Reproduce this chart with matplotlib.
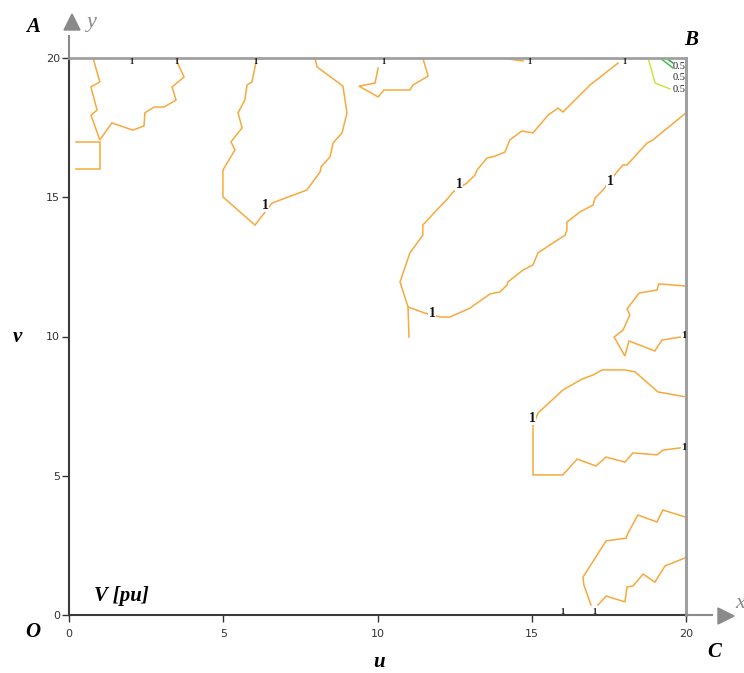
import matplotlib.pyplot as plt
from matplotlib.lines import Line2D
from matplotlib.patches import Polygon

# V [pu] = 1 contour pieces over the u-v grid (0..20)
c1_u = [0.78, 1.00, 0.71, 0.91, 0.71, 1.00, 1.39, 2.07, 2.43, 2.46, 2.76, 3.08, 3.47, 3.34, 3.73, 3.50, 3.50]
c1_v = [20.0, 19.14, 18.96, 18.13, 17.95, 17.06, 17.67, 17.41, 17.56, 18.03, 18.24, 18.24, 18.49, 18.96, 19.32, 19.86, 20.0]
c2_u = [0.23, 1.00, 1.00, 0.23]
c2_v = [16.98, 16.98, 16.01, 16.01]
c3_u = [6.09, 5.93, 5.77, 5.70, 5.48, 5.61, 5.25, 5.38, 4.99, 4.99, 6.03, 6.58, 7.71, 8.14, 8.17,
        8.46, 8.56, 8.85, 9.01, 8.88, 8.04, 7.97]
c3_v = [20.0, 19.14, 19.03, 18.49, 18.03, 17.49, 16.99, 16.70, 15.98, 15.01, 14.00, 14.79, 15.26, 15.91,
        16.09, 16.45, 16.95, 17.31, 18.03, 18.99, 19.68, 20.0]
c4_u = [11.47, 11.64, 11.15, 11.05, 10.21, 10.02, 9.40, 9.92, 10.02]
c4_v = [20.0, 19.35, 19.03, 18.85, 18.85, 18.60, 18.99, 19.10, 19.64]
c5_u = [17.80, 16.89, 16.01, 15.85, 15.53, 15.04, 14.68, 14.29, 14.13, 13.97, 13.74, 13.55, 13.23, 13.16,
        12.90, 12.45, 12.29, 11.86, 11.47, 11.47, 11.05, 10.73, 10.99, 11.54, 12.03, 12.35, 13.00, 13.65,
        13.97, 14.20, 14.23, 14.72, 15.04, 15.20, 15.69, 16.08, 16.14, 16.14, 16.56, 16.99, 17.05, 17.31,
        17.76, 17.96, 18.09, 18.74, 18.93, 20.0]
c5_v = [19.82, 19.03, 18.06, 18.20, 17.95, 17.31, 17.38, 17.06, 16.62, 16.55, 16.45, 16.41, 15.98, 15.80,
        15.51, 15.19, 14.97, 14.47, 14.00, 13.64, 13.00, 11.96, 11.06, 10.84, 10.70, 10.70, 11.02, 11.53,
        11.60, 11.85, 11.96, 12.39, 12.57, 13.00, 13.36, 13.64, 13.82, 14.11, 14.47, 14.72, 14.97, 15.26,
        15.91, 16.16, 16.16, 16.95, 17.06, 18.03]
c6_u = [10.99, 11.02]
c6_v = [11.06, 9.98]
c7_u = [14.04, 14.72]
c7_v = [20.0, 19.89]
c8_u = [20.0, 19.12, 19.06, 18.48, 18.09, 18.18, 17.96, 17.67, 18.02, 18.15, 18.99, 19.22, 19.81]
c8_v = [11.81, 11.89, 11.67, 11.56, 10.99, 10.77, 10.23, 9.98, 9.30, 9.84, 9.48, 9.87, 9.98]
c9_u = [20.0, 19.09, 18.35, 18.02, 17.28, 16.99, 16.63, 16.01, 15.20, 15.04, 15.04, 16.01, 16.47, 17.08,
        17.41, 18.02, 18.28, 19.06, 19.25, 19.81]
c9_v = [7.83, 8.01, 8.73, 8.80, 8.80, 8.62, 8.47, 8.08, 7.25, 6.79, 5.03, 5.03, 5.60, 5.35, 5.67, 5.49,
        5.82, 5.75, 5.92, 6.00]
c10_u = [19.97, 19.25, 19.06, 18.44, 18.12, 18.06, 17.41, 16.66, 16.69, 16.92]
c10_v = [3.52, 3.77, 3.34, 3.59, 2.94, 2.76, 2.66, 1.36, 1.08, 0.36]
c11_u = [17.15, 17.41, 18.02, 18.09, 18.28, 18.61, 18.99, 19.32, 19.97]
c11_v = [0.36, 0.68, 0.47, 1.01, 1.04, 1.47, 1.18, 1.76, 2.05]

# lower levels in the corner
low1_u = [18.77, 19.00, 19.48]
low1_v = [20.0, 19.10, 18.89]
low2_u = [19.16, 19.58]
low2_v = [20.0, 19.64]
low3_u = [19.35, 19.58]
low3_v = [20.0, 19.82]

# inline labels
lab_u = [6.35, 12.64, 11.77, 17.54, 15.01]
lab_v = [14.72, 15.44, 10.81, 15.55, 7.07]
edge_top_u = [2.03, 3.47, 6.06, 10.18, 14.94, 17.99]
edge_bot_u = [16.01, 17.02]
edge_right_v = [10.02, 6.03]
low_lab_v = [19.70, 19.29, 18.88]

orange = '#f7a93c'

fig = plt.figure(figsize=(7.44, 6.73), dpi=100)
ax = fig.add_axes([69 / 744, 1 - 615 / 673, 617 / 744, 557 / 673])

for u, v in [(c1_u, c1_v), (c2_u, c2_v), (c3_u, c3_v), (c4_u, c4_v), (c5_u, c5_v), (c6_u, c6_v),
             (c7_u, c7_v), (c8_u, c8_v), (c9_u, c9_v), (c10_u, c10_v), (c11_u, c11_v)]:
    ax.plot(u, v, color=orange, lw=1.1, solid_joinstyle='miter')
ax.plot(low1_u, low1_v, color='#c8e845', lw=1.1)
ax.plot(low2_u, low2_v, color='#3fc24a', lw=1.1)
ax.plot(low3_u, low3_v, color='#2aa84a', lw=1.1)

lab_font = dict(family='Liberation Serif', fontweight='bold', color='#111')
for u, v in zip(lab_u, lab_v):
    ax.text(u, v, '1', fontsize=10, ha='center', va='center',
            bbox=dict(facecolor='white', edgecolor='none', pad=0.6), **lab_font)
for u in edge_top_u:
    ax.text(u, 20, '1', fontsize=6, ha='center', va='top', **lab_font)
for u in edge_bot_u:
    ax.text(u, 0.12, '1', fontsize=6, ha='center', va='center', **lab_font)
for v in edge_right_v:
    ax.text(19.93, v, '1', fontsize=8, ha='center', va='center', clip_on=True, **lab_font)
for v in low_lab_v:
    ax.text(19.58, v, '0.5', fontsize=7.5, ha='left', va='center', clip_on=True,
            family='Liberation Serif', color='#222')

ax.set_xlim(0, 20)
ax.set_ylim(0, 20)
ax.set_xticks([0, 5, 10, 15, 20])
ax.set_yticks([0, 5, 10, 15, 20])
ax.tick_params(direction='out', length=5, width=1, colors='#333', labelsize=8)
ax.tick_params(axis='x', pad=5)
ax.tick_params(axis='y', pad=1.5)
for lbl in ax.get_xticklabels() + ax.get_yticklabels():
    lbl.set_color('#333')

for side in ['left', 'bottom']:
    ax.spines[side].set_color('#3a3a3a')
    ax.spines[side].set_linewidth(1.5)
ax.spines['top'].set_color('#a0a0a0')
ax.spines['top'].set_linewidth(2)
ax.spines['right'].set_color('#a0a0a0')
ax.spines['right'].set_linewidth(2.2)

# axis arrows beyond the frame
gray = '#8a8a8a'
fig.add_artist(Line2D([69 / 744, 69 / 744], [1 - 58 / 673, 1 - 36 / 673], color=gray, lw=1.5))
fig.add_artist(Line2D([686 / 744, 712 / 744], [1 - 615 / 673, 1 - 615 / 673], color=gray, lw=1.5))
fig.add_artist(Polygon([[64 / 744, 1 - 30 / 673], [80 / 744, 1 - 30 / 673], [72 / 744, 1 - 14 / 673]],
                       closed=True, color=gray, transform=fig.transFigure))
fig.add_artist(Polygon([[718 / 744, 1 - 608 / 673], [718 / 744, 1 - 624 / 673], [734 / 744, 1 - 616 / 673]],
                       closed=True, color=gray, transform=fig.transFigure))
fig.text(87 / 744, 1 - 22 / 673, 'y', fontsize=16, style='italic', family='Liberation Serif',
         color=gray, va='center', ha='left')
fig.text(735 / 744, 1 - 603 / 673, 'x', fontsize=16, style='italic', family='Liberation Serif',
         color=gray, va='center', ha='left')

big = dict(family='Liberation Serif', fontweight='bold', style='italic', color='black',
           fontsize=15, ha='center', va='center')
fig.text(33 / 744, 1 - 27 / 673, 'A', **big)
fig.text(691 / 744, 1 - 40 / 673, 'B', **big)
fig.text(714 / 744, 1 - 652 / 673, 'C', **big)
fig.text(33 / 744, 1 - 632 / 673, 'O', **big)
fig.text(379 / 744, 1 - 662 / 673, 'u', **big)
fig.text(17 / 744, 1 - 337 / 673, 'v', **big)
fig.text(121 / 744, 1 - 596 / 673, 'V [pu]', **big)

fig.savefig('out.png', dpi=100)
